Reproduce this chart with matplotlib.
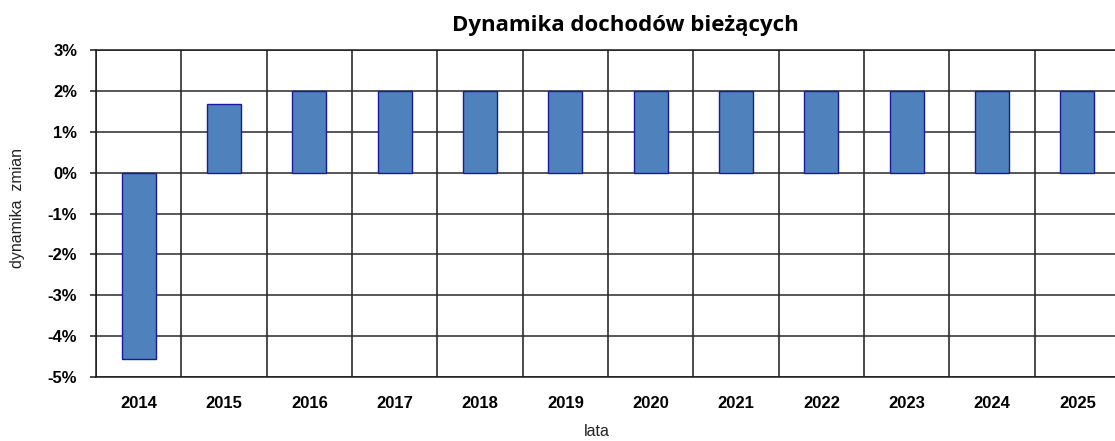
import numpy as np
import matplotlib.pyplot as plt

years = ["2014", "2015", "2016", "2017", "2018", "2019",
         "2020", "2021", "2022", "2023", "2024", "2025"]
dynamics = [-4.55, 1.68, 2.0, 2.0, 2.0, 2.0, 2.0, 2.0, 2.0, 2.0, 2.0, 2.0]
y_ticks = [3, 2, 1, 0, -1, -2, -3, -4, -5]

fig = plt.figure(figsize=(11.15, 4.41), dpi=100)
ax = fig.add_axes([0.0861, 0.1451, 0.9184, 0.7415])

x = np.arange(len(years))
ax.bar(x, dynamics, width=0.4, color="#4F81BD", edgecolor="#1A1AA0",
       linewidth=1.0, zorder=3)

ax.set_xlim(-0.5, len(years) - 0.5)
ax.set_ylim(-5, 3)

# gridlines between categories
ax.set_xticks(x)
ax.set_xticks(np.arange(-0.5, len(years), 1), minor=True)
ax.set_xticklabels(years, fontfamily="Liberation Sans", fontweight="bold",
                   fontsize=12)
ax.tick_params(axis="x", which="both", length=0, pad=14)
ax.grid(True, axis="x", which="minor", color="#1a1a1a", linewidth=1.1)

ax.set_yticks(y_ticks)
ax.set_yticklabels([f"{t}%" for t in y_ticks], fontfamily="Liberation Sans",
                   fontweight="bold", fontsize=12)
ax.tick_params(axis="y", length=4.5, width=1.1, color="#1a1a1a", pad=9)
ax.grid(True, axis="y", color="#2a2a2a", linewidth=1.1)
ax.set_axisbelow(True)

for side in ["top", "bottom", "left", "right"]:
    ax.spines[side].set_color("#1a1a1a")
    ax.spines[side].set_linewidth(1.1)

fig.text(18 / 1115, 1 - 208 / 441, "dynamika  zmian", rotation=90,
         ha="center", va="center", fontfamily="Liberation Sans", fontsize=11.5,
         color="#222222")
fig.text(597 / 1115, 1 - 432 / 441, "lata", ha="center", va="center",
         fontfamily="Liberation Sans", fontsize=11.5, color="#222222")
fig.text(625 / 1115, 1 - 25 / 441, "Dynamika dochodów bieżących",
         ha="center", va="center", fontfamily="Open Sans", fontweight="bold",
         fontsize=16)

fig.savefig("out.png", dpi=100)
